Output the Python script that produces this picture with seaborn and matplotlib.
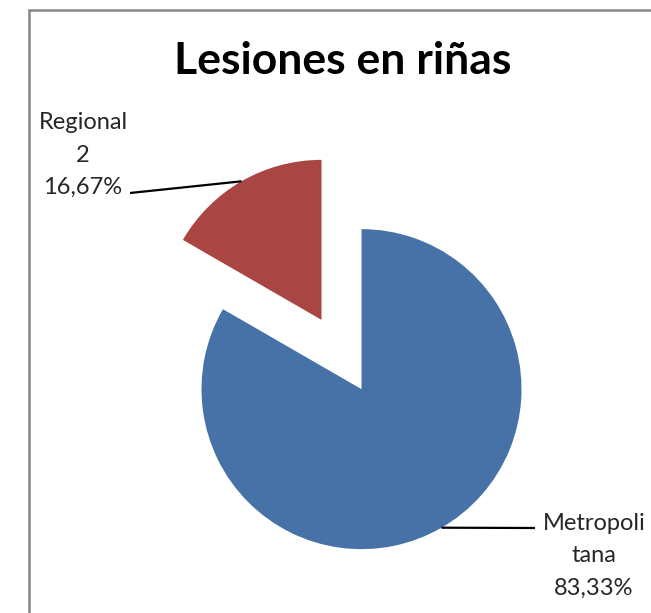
import numpy as np
import matplotlib
matplotlib.use("Agg")
import matplotlib.pyplot as plt
import seaborn as sns
from matplotlib.lines import Line2D

categories = ["Metropolitana", "Regional 2"]
values = [83.33, 16.67]
label_texts = ["Metropoli\ntana\n83,33%", "Regional\n2\n16,67%"]
title = "Lesiones en riñas"

sns.set_theme(style="white")
plt.rcParams["font.family"] = ["Lato", "DejaVu Sans"]

colors = ["#4672A8", "#A94543"]

W, H = 651, 613
fig = plt.figure(figsize=(W / 100, H / 100), dpi=100)
fig.patch.set_facecolor("white")
ax = fig.add_axes([0, 0, 1, 1])

wedges, _ = ax.pie(values, startangle=90, counterclock=False, colors=colors,
                   explode=[0.25, 0.25], radius=1.0,
                   wedgeprops=dict(linewidth=0))

# pixel mapping: centre (341.5, 354.5), radius 160 px
cx, cy, R = 341.5, 354.5, 160.0
ax.set_xlim(-cx / R, (W - cx) / R)
ax.set_ylim(-(H - cy) / R, cy / R)
ax.set_aspect("auto")
ax.axis("off")

def px(x, y):
    return (x - cx) / R, (cy - y) / R

# label positions (pixel) and leader end points
label_pos = [(594, 556), (83, 155)]
leader_end = [(535, 528), (130, 193)]
for w, txt, lp, le in zip(wedges, label_texts, label_pos, leader_end):
    th = np.deg2rad((w.theta1 + w.theta2) / 2)
    sx = w.center[0] + w.r * np.cos(th)
    sy = w.center[1] + w.r * np.sin(th)
    ex, ey = px(*le)
    ax.plot([sx, ex], [sy, ey], color="black", lw=1.6, solid_capstyle="butt")
    tx, ty = px(*lp)
    ax.text(tx, ty, txt, ha="center", va="center", fontsize=17,
            color="#262626", linespacing=1.68)

tx, ty = px(343, 61)
ax.text(tx, ty, title, ha="center", va="center", fontsize=32,
        fontweight="bold", color="black")

# chart frame (left and top edges visible)
fx, fy = 28.5 / W, 1 - 9.5 / H
fig.add_artist(Line2D([fx, fx], [0, fy], transform=fig.transFigure,
                      color="#868686", lw=1.8))
fig.add_artist(Line2D([fx, 1], [fy, fy], transform=fig.transFigure,
                      color="#868686", lw=1.8))

fig.savefig("out.png", dpi=100)
